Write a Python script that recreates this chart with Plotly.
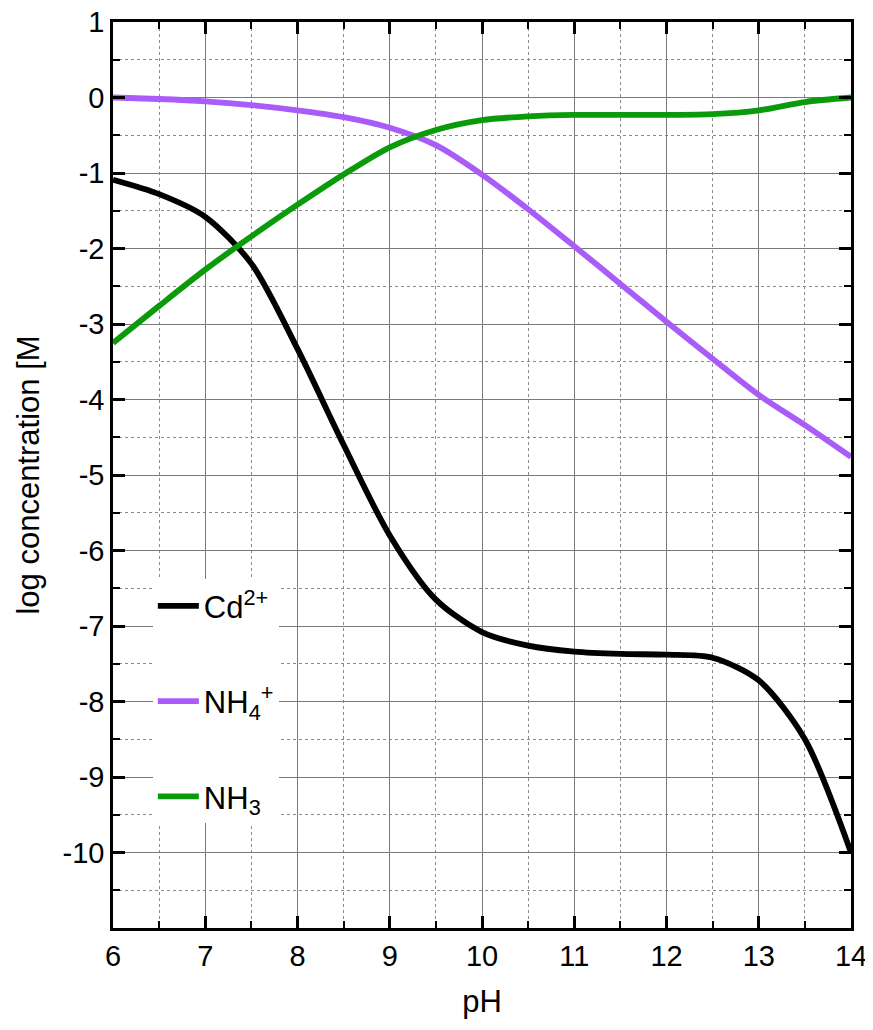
import plotly.graph_objects as go

ph = [6, 6.5, 7, 7.5, 8, 8.5, 9, 9.5, 10, 10.5, 11, 11.5, 12, 12.5, 13, 13.5, 14]
cd2 = [-1.09, -1.28, -1.58, -2.2, -3.33, -4.6, -5.8, -6.65, -7.08, -7.26, -7.34, -7.37, -7.38, -7.42, -7.72, -8.5, -10.0]
nh4 = [0.0, -0.02, -0.05, -0.1, -0.17, -0.26, -0.4, -0.63, -1.02, -1.48, -1.97, -2.47, -2.97, -3.46, -3.94, -4.34, -4.76]
nh3 = [-3.25, -2.76, -2.28, -1.84, -1.42, -1.02, -0.66, -0.43, -0.3, -0.25, -0.23, -0.23, -0.23, -0.22, -0.17, -0.06, 0.0]

names = ["Cd<sup>2+</sup>", "NH<sub>4</sub><sup>+</sup>", "NH<sub>3</sub>"]
colors = ["#000000", "#a95cf7", "#0a9a0a"]
series = [cd2, nh4, nh3]

xticks = [6, 7, 8, 9, 10, 11, 12, 13, 14]
xticktext = ["6", "7", "8", "9", "10", "11", "12", "13", "14"]
yticks = [1, 0, -1, -2, -3, -4, -5, -6, -7, -8, -9, -10]
yticktext = ["1", "0", "-1", "-2", "-3", "-4", "-5", "-6", "-7", "-8", "-9", "-10"]

font = "Liberation Sans, Arial, Helvetica, sans-serif"

fig = go.Figure()
for i, (nm, col, ys) in enumerate(zip(names, colors, series)):
    fig.add_trace(go.Scatter(
        x=ph, y=ys, name=nm, mode="lines",
        line=dict(color=col, width=5.8, shape="spline", smoothing=0.8),
        legendgroup=str(i),
    ))

axis_common = dict(
    showline=True, linecolor="black", linewidth=2.5, mirror="ticks",
    ticks="inside", ticklen=12, tickwidth=2.5, tickcolor="black",
    showgrid=True, gridcolor="#7a7a7a", gridwidth=1,
    zeroline=False, ticklabeloverflow="allow", automargin=False,
    tickfont=dict(family=font, size=29, color="black"),
    minor=dict(ticks="inside", ticklen=7, tickwidth=2, tickcolor="black",
               showgrid=True, gridcolor="#8a8a8a", gridwidth=1, griddash="dot", dtick=0.5),
)

fig.update_xaxes(range=[6, 14], tickvals=xticks, ticktext=xticktext,
                 title=dict(text="pH", font=dict(family=font, size=31, color="black"), standoff=20),
                 **axis_common)
fig.update_yaxes(range=[-11, 1], tickvals=yticks, ticktext=yticktext,
                 title=dict(text="log concentration [M", font=dict(family=font, size=31, color="black"), standoff=14),
                 **axis_common)

fig.update_layout(
    width=857, height=1014,
    margin=dict(l=105, r=14, t=14, b=94),
    plot_bgcolor="white", paper_bgcolor="white",
    font=dict(family=font, color="black"),
    legend=dict(
        x=0.054, y=0.385, xanchor="left", yanchor="top",
        bgcolor="white", borderwidth=0,
        font=dict(family=font, size=31, color="black"),
        tracegroupgap=52, itemwidth=41,
    ),
)

fig.write_html("out.html")
